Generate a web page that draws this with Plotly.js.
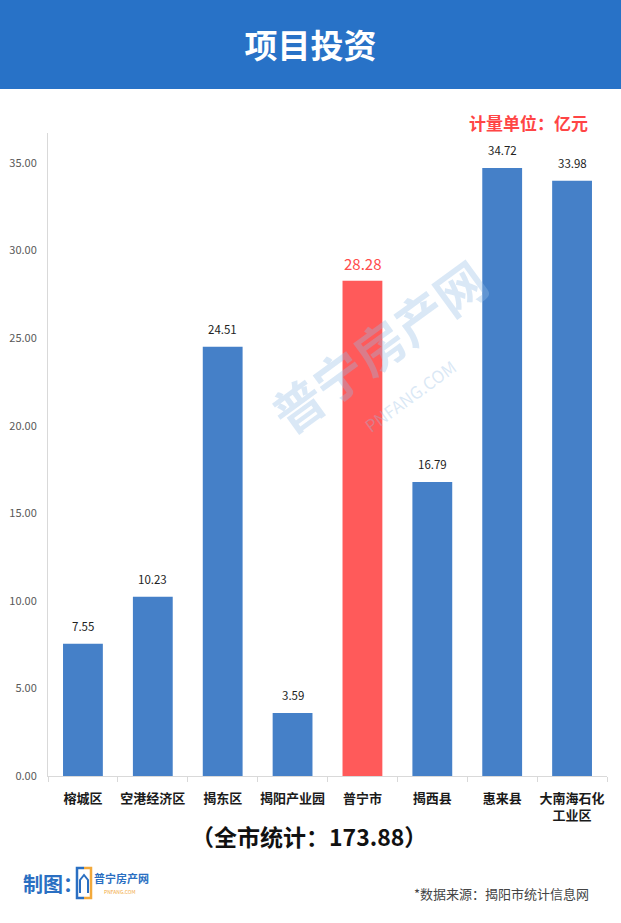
<!DOCTYPE html>
<html>
<head>
<meta charset="utf-8">
<script src="https://cdn.plot.ly/plotly-3.0.1.min.js"></script>
<style>
html,body{margin:0;padding:0;background:#fff;}
#chart{width:621px;height:923px;}
</style>
</head>
<body>
<div id="chart"></div>
<script>
const categories = ["榕城区", "空港经济区", "揭东区", "揭阳产业园", "普宁市", "揭西县", "惠来县", "大南海石化<br>工业区"];
const values = [7.55, 10.23, 24.51, 3.59, 28.28, 16.79, 34.72, 33.98];
const highlight = "普宁市";
const totalValue = 173.88;
const yTicks = [0, 5, 10, 15, 20, 25, 30, 35];

const FONT = '"Noto Sans CJK SC", "Noto Sans", sans-serif';
const BLUE = '#4580C8';
const RED = '#FF5A5A';

// pixel -> paper helpers (plot area)
const L = 48, R = 607, T = 133, B = 776;
const px = x => (x - L) / (R - L);
const py = y => (B - y) / (B - T);

const colors = categories.map(c => c === highlight ? RED : BLUE);

const trace = {
  type: 'bar',
  x: categories,
  y: values,
  marker: {color: colors},
  hoverinfo: 'none'
};

const valueLabels = categories.map((c, i) => ({
  x: c, y: values[i], xref: 'x', yref: 'y',
  text: values[i].toFixed(2),
  showarrow: false, xanchor: 'center', yanchor: 'bottom',
  yshift: c === highlight ? 5 : 8,
  font: {family: FONT, size: c === highlight ? 15 : 11.5, color: c === highlight ? '#FF4B4B' : '#222222'}
}));

const layout = {
  width: 621, height: 923,
  margin: {l: L, r: 621 - R, t: T, b: 923 - B, pad: 0},
  paper_bgcolor: '#fff', plot_bgcolor: '#fff',
  showlegend: false,
  bargap: 0.43,
  font: {family: FONT},
  title: {
    text: '<b>项目投资</b>',
    x: 0.5, xanchor: 'center', xref: 'container',
    y: 1 - 46 / 923, yanchor: 'middle', yref: 'container',
    font: {family: FONT, size: 33, color: '#ffffff'}
  },
  xaxis: {
    type: 'category',
    showline: true, linecolor: '#D9D9D9', linewidth: 1,
    ticks: 'outside', tickson: 'boundaries', ticklen: 5, tickcolor: '#D9D9D9',
    tickangle: 0,
    ticklabelstandoff: 10,
    tickfont: {family: FONT, size: 13, color: '#1a1a1a', weight: 'bold'},
    showgrid: false, zeroline: false, fixedrange: true
  },
  yaxis: {
    range: [0, (B - T) / ((B - 163) / 35)],
    tickvals: yTicks,
    tickformat: '.2f',
    showline: true, linecolor: '#D9D9D9', linewidth: 1,
    ticks: '', showgrid: false, zeroline: false,
    tickfont: {family: FONT, size: 11, color: '#595959'},
    ticklabelstandoff: 8,
    fixedrange: true
  },
  shapes: [
    {type: 'rect', xref: 'paper', yref: 'paper', x0: px(-2), x1: px(625), y0: py(89), y1: py(-2),
     fillcolor: '#2872C7', line: {width: 0}, layer: 'below'},
    // logo icon
    {type: 'path', xref: 'paper', yref: 'paper',
     path: `M ${px(84)},${py(868)} L ${px(77)},${py(868)} L ${px(77)},${py(898)} L ${px(84)},${py(898)}`,
     line: {color: '#2A6FC2', width: 2.5}},
    {type: 'path', xref: 'paper', yref: 'paper',
     path: `M ${px(84)},${py(868)} L ${px(91)},${py(868)} L ${px(91)},${py(898)} L ${px(84)},${py(898)}`,
     line: {color: '#F2A93B', width: 2.5}},
    {type: 'path', xref: 'paper', yref: 'paper',
     path: `M ${px(80)},${py(893)} L ${px(80)},${py(880)} L ${px(84)},${py(875)} L ${px(88)},${py(880)} L ${px(88)},${py(893)}`,
     line: {color: '#2A6FC2', width: 2}}
  ],
  annotations: valueLabels.concat([
    // faint watermark
    {text: '<b>普宁房产网</b>', xref: 'paper', yref: 'paper', x: px(378), y: py(345),
     xanchor: 'center', yanchor: 'middle', showarrow: false, textangle: -36,
     font: {family: FONT, size: 50, color: 'rgba(150,190,228,0.35)'}},
    {text: 'PNFANG.COM', xref: 'paper', yref: 'paper', x: px(410), y: py(395),
     xanchor: 'center', yanchor: 'middle', showarrow: false, textangle: -36,
     font: {family: FONT, size: 17, color: 'rgba(150,190,228,0.35)'}},
    {text: '<b>计量单位：亿元</b>', xref: 'paper', yref: 'paper', x: px(528), y: py(122),
     xanchor: 'center', yanchor: 'middle', showarrow: false,
     font: {family: FONT, size: 17, color: '#FF4545'}},
    {text: '<b>（全市统计：' + totalValue.toFixed(2) + '）</b>', xref: 'paper', yref: 'paper', x: px(309), y: py(836),
     xanchor: 'center', yanchor: 'middle', showarrow: false,
     font: {family: FONT, size: 23, color: '#111111'}},
    {text: '<b>制图：</b>', xref: 'paper', yref: 'paper', x: px(21), y: py(883),
     xanchor: 'left', yanchor: 'middle', showarrow: false,
     font: {family: FONT, size: 20, color: '#2A6FC2'}},
    {text: '<b>普宁房产网</b>', xref: 'paper', yref: 'paper', x: px(92), y: py(878),
     xanchor: 'left', yanchor: 'middle', showarrow: false,
     font: {family: FONT, size: 11, color: '#2A6FC2'}},
    {text: 'PNFANG.COM', xref: 'paper', yref: 'paper', x: px(102), y: py(891),
     xanchor: 'left', yanchor: 'middle', showarrow: false,
     font: {family: FONT, size: 5, color: '#F2A93B'}},
    {text: '*数据来源：揭阳市统计信息网', xref: 'paper', yref: 'paper', x: px(591), y: py(893),
     xanchor: 'right', yanchor: 'middle', showarrow: false,
     font: {family: FONT, size: 13, color: '#444444'}}
  ])
};

Plotly.newPlot('chart', [trace], layout, {displayModeBar: false, staticPlot: true});
</script>
</body>
</html>
